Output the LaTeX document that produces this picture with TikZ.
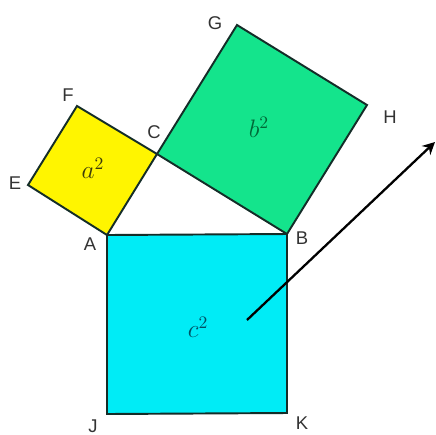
\documentclass[tikz,border=0pt]{standalone}
\usepackage{fontspec}
\setmainfont{Liberation Sans}
\usetikzlibrary{arrows.meta}
\definecolor{sqyellow}{RGB}{255,245,0}
\definecolor{sqgreen}{RGB}{20,228,140}
\definecolor{sqcyan}{RGB}{0,236,246}
\definecolor{edge}{RGB}{20,45,40}
\definecolor{alab}{RGB}{60,60,10}
\definecolor{blab}{RGB}{0,105,55}
\definecolor{clab}{RGB}{0,80,100}
\tikzset{
  sq/.style={draw=edge, line width=1.1pt, line join=miter},
  vlab/.style={font=\fontsize{10.5}{12}\selectfont, text=black!80, inner sep=0pt},
  alabel/.style={font=\fontsize{14}{16}\selectfont, inner sep=0pt},
  arr/.style={draw=black, line width=1.3pt, -{Stealth[length=7pt,width=7pt]}}
}
\begin{document}
\begin{tikzpicture}[x=0.02cm,y=-0.02cm]
\useasboundingbox (0,0) rectangle (436,434);
\coordinate (A) at (107,235);
\coordinate (B) at (287,234);
\coordinate (C) at (157,154);
\coordinate (E) at (28,185);
\coordinate (F) at (77,106);
\coordinate (G) at (237,25);
\coordinate (H) at (367,105);
\coordinate (J) at (107,414);
\coordinate (K) at (287,413);
\coordinate (P) at (247,320);
\coordinate (Q) at (435,142);
\fill[white] (0,0) rectangle (436,434);
\filldraw[sq, fill=sqcyan] (A) -- (B) -- (K) -- (J) -- cycle;
\filldraw[sq, fill=sqyellow] (A) -- (C) -- (F) -- (E) -- cycle;
\filldraw[sq, fill=sqgreen] (C) -- (G) -- (H) -- (B) -- cycle;
\node[alabel, text=alab] (la) at (93,168) {$a^2$};
\node[alabel, text=blab] (lb) at (259,127) {$b^2$};
\node[alabel, text=clab] (lc) at (198,327) {$c^2$};
\node[vlab] (tA) at (90,244) {A};
\node[vlab] (tB) at (302,238) {B};
\node[vlab] (tC) at (154,132) {C};
\node[vlab] (tE) at (15,183) {E};
\node[vlab] (tF) at (68,95) {F};
\node[vlab] (tG) at (215,23) {G};
\node[vlab] (tH) at (390,117) {H};
\node[vlab] (tJ) at (93,426) {J};
\node[vlab] (tK) at (302,423) {K};
\draw[arr] (P) -- (Q);
\end{tikzpicture}
\end{document}
